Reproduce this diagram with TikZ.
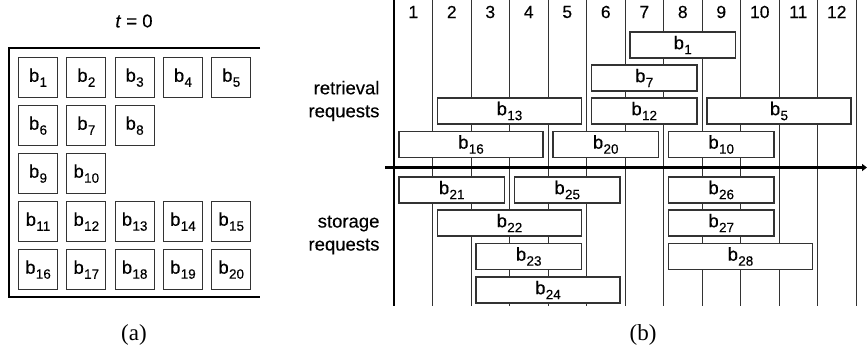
\documentclass[tikz,border=0pt]{standalone}
\usepackage{fontspec}
\setmainfont{Liberation Sans}[FakeBold=0.25]
\newfontfamily\capfont{Liberation Serif}
\usetikzlibrary{arrows.meta}
\newcommand\bsub[1]{b\kern0.3pt\raisebox{-5pt}{\fontsize{13.5}{13.5}\selectfont #1}}
\begin{document}
\begin{tikzpicture}[x=1pt,y=-1pt,
  font=\fontsize{18.5}{20}\selectfont,
  gridline/.style={line width=0.9pt, draw=black!80},
  blk/.style={draw=black!80, line width=1.1pt, fill=white, minimum width=39pt,
    minimum height=40pt, inner sep=0pt, anchor=north west},
  reqbar/.style={draw=black!80, line width=1.1pt, fill=white, minimum height=26pt, inner sep=0pt},
  caplabel/.style={font=\capfont\fontsize{23}{25}\selectfont},
  numlabel/.style={font=\fontsize{17.5}{20}\selectfont},
  side/.style={align=right, anchor=east, font=\fontsize{18.5}{23}\selectfont}]
\useasboundingbox (0,0) rectangle (868,349);
% ---------- (a) ----------
\node (t0) at (134,21) {\textit{t} = 0};
\draw[line width=1.3pt] (260,48) -- (9,48) -- (9,297) -- (260,297);
\foreach \n/\c/\r in {1/0/0,2/1/0,3/2/0,4/3/0,5/4/0,
                      6/0/1,7/1/1,8/2/1,
                      9/0/2,10/1/2,
                      11/0/3,12/1/3,13/2/3,14/3/3,15/4/3,
                      16/0/4,17/1/4,18/2/4,19/3/4,20/4/4}
  \node[blk] (a\n) at ({18+48.3*\c},{57+48*\r}) {\bsub{\n}};
\node[caplabel] (la) at (134,335) {(a)};
% ---------- (b) ----------
\foreach \i in {1,...,12} {
  \draw[gridline] ({394+38.5*\i},0) -- ({394+38.5*\i},306);
  \node[numlabel] (h\i) at ({394+38.5*(\i-0.5)},12) {\i};
}
\draw[line width=1.8pt] (394,0) -- (394,306);
\coordinate (axL) at (385,167.5);
\coordinate (axR) at (867,167.5);
\draw[line width=2.5pt, -{Triangle[length=5pt,width=7pt]}] (axL) -- (axR);
\foreach \n/\a/\b/\y in {1/7/9/32, 7/6/8/65, 13/2/5/98, 12/6/8/98, 5/9/12/98,
    16/1/4/131.5, 20/5/7/131.5, 10/8/10/131.5,
    21/1/3/177, 25/4/6/177, 26/8/10/177,
    22/2/5/210, 27/8/10/210,
    23/3/5/243.5, 28/8/11/243.5,
    24/3/6/277} {
  \pgfmathsetmacro\w{38.5*(\b-\a+1)-10}
  \pgfmathsetmacro\cx{394+38.5*(\a-1)+5+\w/2}
  \node[reqbar, minimum width=\w pt] (r\n) at (\cx,{\y+13}) {\bsub{\n}};
}
\node[side] (ret) at (383,101) {retrieval\\requests};
\node[side] (sto) at (383,235) {storage\\requests};
\node[caplabel] (lb) at (643,335) {(b)};
\end{tikzpicture}
\end{document}
